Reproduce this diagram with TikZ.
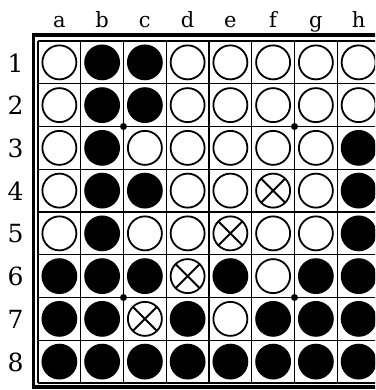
\documentclass[tikz,border=0pt]{standalone}
\usepackage{fontspec}
\newfontfamily\lblfont{DejaVu Serif}
\begin{document}
\begin{tikzpicture}[x=1pt,y=-1pt,
  gridline/.style={line width=1.4pt},
  frameline/.style={line width=3.3pt},
  collbl/.style={font=\lblfont\fontsize{21pt}{23pt}\selectfont,inner sep=0pt},
  rowlbl/.style={font=\lblfont\fontsize{25pt}{27pt}\selectfont,inner sep=0pt},
  wdisc/.style={circle,draw=black,line width=1.8pt,fill=white,minimum size=34pt,inner sep=0pt},
  bdisc/.style={circle,draw=black,fill=black,line width=1.8pt,minimum size=34pt,inner sep=0pt},
  xdisc/.style={wdisc,path picture={
     \draw[line width=1.8pt] (path picture bounding box.north west) -- (path picture bounding box.south east)
       (path picture bounding box.north east) -- (path picture bounding box.south west);}},
  gdot/.style={circle,fill=black,minimum size=7pt,inner sep=0pt}]
\useasboundingbox (0,0) rectangle (375,390);
\clip (0,0) rectangle (375,390);
\def\cw{42.75}
% frame
\draw[frameline] (33.3,35) rectangle (387,387);
% grid
\foreach \i in {0,...,8}{
  \draw[gridline] ({38+\i*\cw},41) -- ({38+\i*\cw},{41+8*\cw});
  \draw[gridline] (38,{41+\i*\cw}) -- ({38+8*\cw},{41+\i*\cw});
}
% labels
\foreach \l [count=\i from 0] in {a,b,c,d,e,f,g,h}{
  \node[collbl,anchor=base] (col\l) at ({38+(\i+0.5)*\cw},28) {\l};
}
\foreach \r in {1,...,8}{
  \node[rowlbl] (row\r) at (15.5,{41+(\r-0.5)*\cw+0.5}) {\r};
}
% discs: W white, B black, X crossed
\foreach \row/\cells in {
  1/{W,B,B,W,W,W,W,W},
  2/{W,B,B,W,W,W,W,W},
  3/{W,B,W,W,W,W,W,B},
  4/{W,B,B,W,W,X,W,B},
  5/{W,B,W,W,X,W,W,B},
  6/{B,B,B,X,B,W,B,B},
  7/{B,B,X,B,W,B,B,B},
  8/{B,B,B,B,B,B,B,B}}{
  \foreach \k [count=\i from 0] in \cells {
    \if\k W\def\sty{wdisc}\fi
    \if\k B\def\sty{bdisc}\fi
    \if\k X\def\sty{xdisc}\fi
    \node[\sty] (p\row-\i) at ({38+(\i+0.5)*\cw},{41+(\row-0.5)*\cw}) {};
  }
}
% star points
\node[gdot] (dot1) at ({38+2*\cw},{41+2*\cw}) {};
\node[gdot] (dot2) at ({38+6*\cw},{41+2*\cw}) {};
\node[gdot] (dot3) at ({38+2*\cw},{41+6*\cw}) {};
\node[gdot] (dot4) at ({38+6*\cw},{41+6*\cw}) {};
\end{tikzpicture}
\end{document}
